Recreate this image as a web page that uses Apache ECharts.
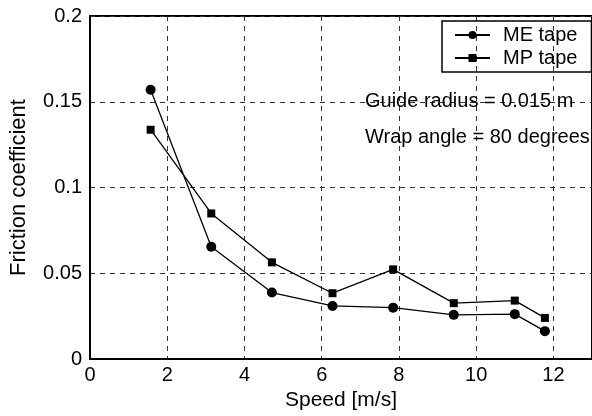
<!DOCTYPE html>
<html lang="en">
<head>
    <meta charset="UTF-8">
    <title>Friction coefficient vs speed</title>
    <style>
        html, body {
            margin: 0;
            padding: 0;
            background: #fff;
        }
        #main {
            width: 592px;
            height: 416px;
        }
    </style>
    <script type="text/javascript" src="https://cdn.jsdelivr.net/npm/echarts@6/dist/echarts.min.js"></script>
</head>
<body>
<div id="main"></div>
<script type="text/javascript">
    // speed [m/s] and friction coefficient per tape
    var speed = [1.57, 3.14, 4.71, 6.28, 7.85, 9.42, 11.0, 11.78];
    var meTape = [0.157, 0.0655, 0.0388, 0.031, 0.030, 0.0258, 0.0262, 0.0163];
    var mpTape = [0.1337, 0.0849, 0.0564, 0.0384, 0.0523, 0.0326, 0.0341, 0.024];
    var seriesNames = ['ME tape', 'MP tape'];
    var notes = ['Guide radius = 0.015 m', 'Wrap angle = 80 degrees'];

    function pairs(ys) {
        var out = [];
        for (var i = 0; i < speed.length; i++) {
            out.push([speed[i], ys[i]]);
        }
        return out;
    }

    var font = 'Liberation Sans, Arial, Helvetica, sans-serif';
    var chart = echarts.init(document.getElementById('main'));
    var gridStyle = {
        show: true,
        lineStyle: {color: '#333', width: 1, type: [5, 5]}
    };
    var option = {
        animation: false,
        textStyle: {fontFamily: font},
        grid: {
            left: 88, top: 16, width: 507, height: 344,
            show: true, borderColor: '#000', borderWidth: 2
        },
        legend: {
            orient: 'vertical',
            left: 442, top: 21,
            data: seriesNames,
            borderColor: '#000', borderWidth: 1.5,
            padding: [3, 14, 3, 12],
            itemGap: 1,
            itemWidth: 35, itemHeight: 10,
            textStyle: {fontSize: 20, lineHeight: 22, color: '#000', fontFamily: font, padding: [0, 0, 0, 8]}
        },
        xAxis: {
            type: 'value',
            min: 0, max: 13, interval: 2,
            name: 'Speed [m/s]',
            nameLocation: 'middle',
            nameGap: 28,
            nameTextStyle: {fontSize: 21, color: '#000', fontFamily: font},
            axisLine: {show: true, lineStyle: {color: '#000', width: 2}},
            axisTick: {show: false},
            axisLabel: {fontSize: 20, color: '#000', margin: 6, showMaxLabel: false, fontFamily: font},
            splitLine: gridStyle
        },
        yAxis: {
            type: 'value',
            min: 0, max: 0.2, interval: 0.05,
            name: 'Friction coefficient',
            nameLocation: 'middle',
            nameGap: 60,
            nameTextStyle: {fontSize: 22, color: '#000', fontFamily: font},
            axisLine: {show: true, lineStyle: {color: '#000', width: 2}},
            axisTick: {show: false},
            axisLabel: {fontSize: 20, color: '#000', margin: 8, fontFamily: font},
            splitLine: gridStyle
        },
        graphic: [
            {type: 'text', left: 365, top: 91, z: 10,
                style: {text: notes[0], fontSize: 20, fill: '#000', fontFamily: font}},
            {type: 'text', left: 365, top: 127, z: 10,
                style: {text: notes[1], fontSize: 20, fill: '#000', fontFamily: font}}
        ],
        series: [
            {
                name: seriesNames[0],
                type: 'line',
                data: pairs(meTape),
                symbol: 'circle',
                symbolSize: 10,
                lineStyle: {color: '#000', width: 1.3},
                itemStyle: {color: '#000'}
            },
            {
                name: seriesNames[1],
                type: 'line',
                data: pairs(mpTape),
                symbol: 'rect',
                symbolSize: 8,
                lineStyle: {color: '#000', width: 1.3},
                itemStyle: {color: '#000'}
            }
        ]
    };
    chart.setOption(option);
</script>
</body>
</html>
